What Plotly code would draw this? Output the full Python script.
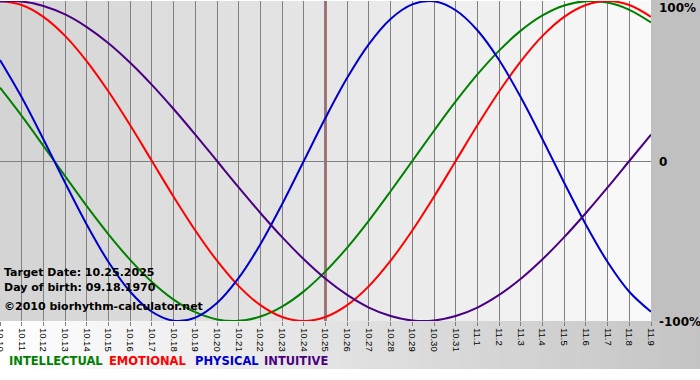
import plotly.graph_objects as go

# ---- data ----
days = ["10.10", "10.11", "10.12", "10.13", "10.14", "10.15", "10.16", "10.17", "10.18", "10.19",
        "10.20", "10.21", "10.22", "10.23", "10.24", "10.25", "10.26", "10.27", "10.28", "10.29",
        "10.30", "10.31", "11.1", "11.2", "11.3", "11.4", "11.5", "11.6", "11.7", "11.8", "11.9"]

intellectual = [0.458, 0.282, 0.095, -0.095, -0.282, -0.458, -0.618, -0.756, -0.866, -0.945,
                -0.990, -0.999, -0.972, -0.910, -0.815, -0.690, -0.541, -0.372, -0.189, 0.0,
                0.189, 0.372, 0.541, 0.690, 0.815, 0.910, 0.972, 0.999, 0.990, 0.945, 0.866]

emotional = [1.0, 0.975, 0.901, 0.782, 0.623, 0.434, 0.223, 0.0, -0.223, -0.434,
             -0.623, -0.782, -0.901, -0.975, -1.0, -0.975, -0.901, -0.782, -0.623, -0.434,
             -0.223, 0.0, 0.223, 0.434, 0.623, 0.782, 0.901, 0.975, 1.0, 0.975, 0.901]

physical = [0.631, 0.398, 0.136, -0.136, -0.398, -0.631, -0.817, -0.942, -0.998, -0.979,
            -0.888, -0.731, -0.520, -0.270, 0.0, 0.270, 0.520, 0.731, 0.888, 0.979,
            0.998, 0.942, 0.817, 0.631, 0.398, 0.136, -0.136, -0.398, -0.631, -0.817, -0.942]

intuitive = [0.997, 0.997, 0.969, 0.916, 0.837, 0.736, 0.614, 0.476, 0.325, 0.165,
             0.0, -0.165, -0.325, -0.476, -0.614, -0.736, -0.837, -0.916, -0.969, -0.997,
             -0.997, -0.969, -0.916, -0.837, -0.736, -0.614, -0.476, -0.325, -0.165, 0.0, 0.165]

series_names = ["INTELLECTUAL", "EMOTIONAL", "PHYSICAL", "INTUITIVE"]
series_colors = ["#008000", "#ff0000", "#0000cc", "#4b0082"]
y_tick_values = [1, 0, -1]
y_tick_labels = ["100%", "0", "-100%"]
target_day = "10.25"
info_lines = ["Target Date: 10.25.2025", "Day of birth: 09.18.1970", "©2010 biorhythm-calculator.net"]

# ---- figure ----
W, H = 700, 380
ML, MR, MT, MB = 0, 49, 1, 59
PW, PH = W - ML - MR, H - MT - MB

def px_to_paper_x(px):
    return (px - ML) / PW

def px_to_paper_y(py):
    return 1 - (py - MT) / PH

x = list(range(len(days)))
fig = go.Figure()
for vals, name, col in zip([intellectual, emotional, physical, intuitive], series_names, series_colors):
    fig.add_trace(go.Scatter(x=x, y=vals, mode="lines", name=name,
                             line=dict(color=col, width=2, shape="spline", smoothing=1.0),
                             hoverinfo="skip"))

shapes = []
# bottom gradient band (white -> gray)
nstrip = 70
for k in range(nstrip):
    x0 = k * W / nstrip
    x1 = (k + 1) * W / nstrip
    v = int(round(255 - 59 * ((x0 + x1) / 2) / W))
    shapes.append(dict(type="rect", xref="paper", yref="paper",
                       x0=px_to_paper_x(x0), x1=px_to_paper_x(x1 + 0.5),
                       y0=px_to_paper_y(369), y1=px_to_paper_y(321),
                       fillcolor=f"rgb({v},{v},{v})", line=dict(width=0), layer="below"))
# right margin gray
shapes.append(dict(type="rect", xref="paper", yref="paper",
                   x0=1, x1=px_to_paper_x(W + 1), y0=px_to_paper_y(321), y1=px_to_paper_y(-1),
                   fillcolor="#c0c0c0", line=dict(width=0), layer="below"))
# column shading in plot area
n = len(days) - 1
for i in range(n):
    v = int(round(212 + (249 - 212) * i / (n - 1)))
    shapes.append(dict(type="rect", xref="x", yref="paper", x0=i, x1=i + 1, y0=0, y1=1,
                       fillcolor=f"rgb({v},{v},{v})", line=dict(width=0), layer="below"))
# target date line
ti = days.index(target_day)
shapes.append(dict(type="line", xref="x", yref="paper", x0=ti, x1=ti, y0=0, y1=1,
                   line=dict(color="#6e0000", width=2), layer="between"))

annotations = []
info_y = [272, 287, 306]
for txt, yy in zip(info_lines, info_y):
    annotations.append(dict(text=txt, xref="paper", yref="paper", x=px_to_paper_x(2), y=px_to_paper_y(yy),
                            xanchor="left", yanchor="middle", showarrow=False,
                            font=dict(family="DejaVu Sans", size=11, color="black", weight="bold")))
legend_x = [7, 107, 193, 262]
for name, col, lx in zip(series_names, series_colors, legend_x):
    annotations.append(dict(text=name, xref="paper", yref="paper", x=px_to_paper_x(lx), y=px_to_paper_y(361),
                            xanchor="left", yanchor="middle", showarrow=False,
                            font=dict(family="DejaVu Sans", size=11.5, color=col, weight="bold")))
label_y = [8, 162, 322]
for lab, yy in zip(y_tick_labels, label_y):
    annotations.append(dict(text=lab, xref="paper", yref="paper", x=px_to_paper_x(657), y=px_to_paper_y(yy),
                            xanchor="left", yanchor="middle", showarrow=False,
                            font=dict(family="DejaVu Sans", size=12, color="black", weight="bold")))

fig.update_layout(
    template="none",
    width=W, height=H,
    margin=dict(l=ML, r=MR, t=MT, b=MB, pad=0),
    paper_bgcolor="white", plot_bgcolor="rgba(0,0,0,0)",
    showlegend=False,
    shapes=shapes,
    annotations=annotations,
    xaxis=dict(range=[0, n], tickmode="array", tickvals=x, ticktext=days, tickangle=90,
               ticks="outside", ticklen=4, tickcolor="#808080", tickwidth=1,
               showgrid=True, gridcolor="#808080", gridwidth=1, ticklabeloverflow="allow",
               zeroline=False, showline=False, automargin=False, fixedrange=True,
               tickfont=dict(family="Liberation Sans", size=9.5, color="black")),
    yaxis=dict(range=[-1, 1], tickmode="array", tickvals=y_tick_values, showticklabels=False,
               ticks="", showgrid=True, gridcolor="#808080", gridwidth=1,
               zeroline=False, showline=False, automargin=False, fixedrange=True),
)

fig.write_html("out.html", config={"displayModeBar": False},
               post_script="document.body.style.margin='0';document.body.style.padding='0';")
